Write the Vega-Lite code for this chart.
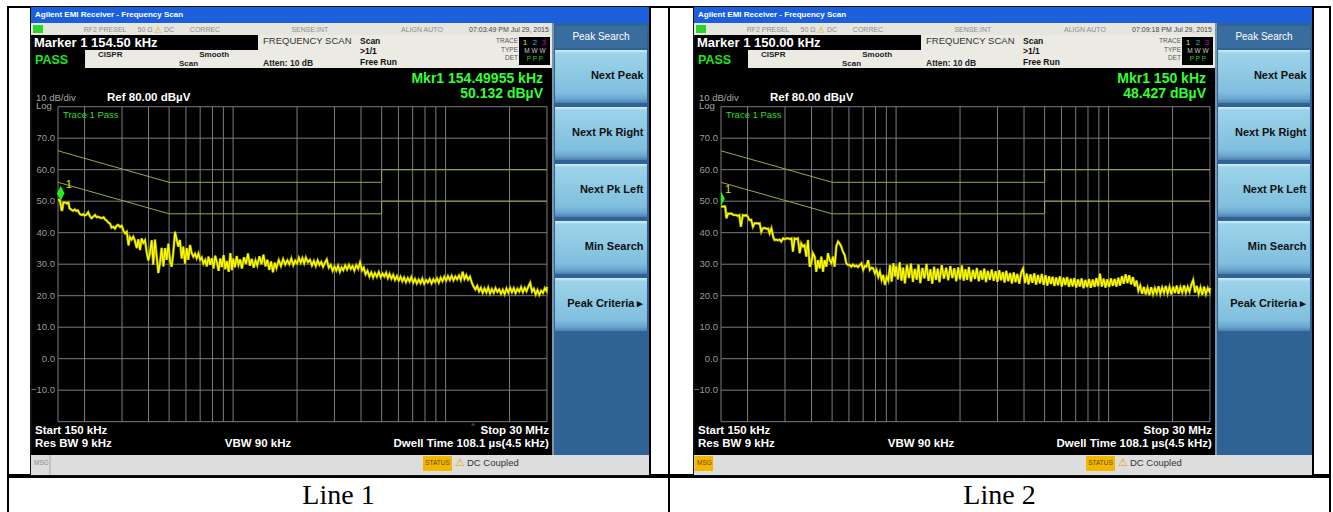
{
"$schema":"https://vega.github.io/schema/vega-lite/v6.json",
"background":"white",
"padding":{"left":7,"top":6,"right":0,"bottom":0},
"config":{"view":{"stroke":null},"font":"Liberation Sans","text":{"font":"Liberation Sans"}},
"datasets":{
"gx":[{"f":150},{"f":200},{"f":300},{"f":400},{"f":500},{"f":600},{"f":700},{"f":800},{"f":900},{"f":1000},{"f":2000},{"f":3000},{"f":4000},{"f":5000},{"f":6000},{"f":7000},{"f":8000},{"f":9000},{"f":10000},{"f":20000},{"f":30000}],
"gy":[{"db":-20},{"db":-10},{"db":0},{"db":10},{"db":20},{"db":30},{"db":40},{"db":50},{"db":60},{"db":70},{"db":80}],
"limits":[{"lim":"QP","i":1,"f":150,"v":66},{"lim":"QP","i":2,"f":500,"v":56},{"lim":"QP","i":3,"f":5000,"v":56},{"lim":"QP","i":4,"f":5000,"v":60},{"lim":"QP","i":5,"f":30000,"v":60},{"lim":"AV","i":1,"f":150,"v":56},{"lim":"AV","i":2,"f":500,"v":46},{"lim":"AV","i":3,"f":5000,"v":46},{"lim":"AV","i":4,"f":5000,"v":50},{"lim":"AV","i":5,"f":30000,"v":50}],
"buttons":[{"label":"Next Peak"},{"label":"Next Pk Right"},{"label":"Next Pk Left"},{"label":"Min Search"},{"label":"Peak Criteria ▸"}],
"trace":[
{"f":150,"a":50.4,"b":48.3},{"f":153,"a":50.4,"b":48.3},{"f":156,"a":47.2,"b":48.4},{"f":157,"a":47.2,"b":48.3},{"f":159,"a":49.6,"b":44.6},{"f":162,"a":49.6,"b":46.1},{"f":165,"a":49.3,"b":46.0},{"f":168,"a":49.6,"b":46.1},{"f":170,"a":47.7,"b":45.8},{"f":172,"a":47.5,"b":45.6},{"f":174,"a":47.2,"b":45.6},{"f":177,"a":47.0,"b":45.6},{"f":180,"a":47.4,"b":45.3},{"f":183,"a":46.9,"b":45.6},{"f":186,"a":47.1,"b":41.9},{"f":190,"a":45.9,"b":45.6},{"f":194,"a":45.6,"b":45.4},{"f":197,"a":45.9,"b":45.6},{"f":200,"a":45.4,"b":45.2},{"f":204,"a":45.7,"b":44.0},{"f":208,"a":46.5,"b":44.1},{"f":212,"a":45.2,"b":41.9},{"f":216,"a":44.6,"b":43.0},{"f":220,"a":45.1,"b":43.0},{"f":224,"a":45.6,"b":42.9},{"f":228,"a":44.9,"b":43.0},{"f":232,"a":45.1,"b":40.3},{"f":236,"a":44.8,"b":41.4},{"f":241,"a":44.6,"b":41.5},{"f":246,"a":44.9,"b":41.2},{"f":250,"a":44.2,"b":41.3},{"f":254,"a":43.9,"b":39.8},{"f":259,"a":43.2,"b":41.4},{"f":264,"a":42.8,"b":38.7},{"f":268,"a":41.6,"b":37.7},{"f":273,"a":41.9,"b":37.8},{"f":278,"a":41.3,"b":37.6},{"f":283,"a":42.2,"b":37.8},{"f":288,"a":42.5,"b":37.2},{"f":294,"a":41.8,"b":38.2},{"f":299,"a":42.2,"b":37.9},{"f":305,"a":40.6,"b":38.2},{"f":310,"a":39.8,"b":38.2},{"f":316,"a":40.3,"b":38.0},{"f":322,"a":36.0,"b":38.2},{"f":327,"a":38.6,"b":34.0},{"f":333,"a":37.8,"b":38.2},{"f":339,"a":38.7,"b":38.0},{"f":345,"a":37.5,"b":38.2},{"f":352,"a":35.1,"b":33.5},{"f":358,"a":37.9,"b":36.6},{"f":365,"a":34.5,"b":35.6},{"f":371,"a":38.2,"b":36.0},{"f":378,"a":36.8,"b":32.4},{"f":385,"a":37.6,"b":37.7},{"f":392,"a":33.9,"b":29.2},{"f":399,"a":31.2,"b":30.3},{"f":406,"a":33.4,"b":33.5},{"f":414,"a":37.6,"b":32.4},{"f":421,"a":29.8,"b":27.6},{"f":429,"a":37.8,"b":31.3},{"f":437,"a":32.4,"b":28.7},{"f":445,"a":27.2,"b":32.4},{"f":453,"a":30.4,"b":27.6},{"f":461,"a":35.2,"b":31.3},{"f":470,"a":29.3,"b":29.2},{"f":478,"a":35.1,"b":33.5},{"f":487,"a":31.4,"b":31.3},{"f":496,"a":36.5,"b":30.3},{"f":505,"a":30.8,"b":32.4},{"f":514,"a":29.2,"b":29.2},{"f":523,"a":33.6,"b":35.6},{"f":533,"a":40.3,"b":37.2},{"f":542,"a":38.0,"b":36.6},{"f":552,"a":35.6,"b":35.6},{"f":562,"a":37.7,"b":34.0},{"f":573,"a":31.8,"b":32.9},{"f":583,"a":35.6,"b":30.3},{"f":594,"a":30.2,"b":29.7},{"f":605,"a":35.1,"b":29.8},{"f":616,"a":31.4,"b":29.2},{"f":627,"a":36.1,"b":29.9},{"f":639,"a":33.5,"b":29.3},{"f":650,"a":32.4,"b":29.6},{"f":662,"a":33.3,"b":29.1},{"f":674,"a":31.9,"b":29.7},{"f":687,"a":33.4,"b":30.3},{"f":700,"a":31.4,"b":28.2},{"f":712,"a":32.1,"b":29.4},{"f":725,"a":30.2,"b":29.2},{"f":739,"a":31.3,"b":31.3},{"f":752,"a":29.3,"b":28.2},{"f":766,"a":32.4,"b":28.9},{"f":780,"a":29.8,"b":28.7},{"f":795,"a":31.9,"b":27.1},{"f":809,"a":28.7,"b":28.2},{"f":824,"a":32.7,"b":26.0},{"f":839,"a":30.6,"b":27.6},{"f":855,"a":27.9,"b":25.0},{"f":870,"a":31.8,"b":26.6},{"f":886,"a":29.1,"b":23.4},{"f":903,"a":32.9,"b":26.0},{"f":919,"a":28.4,"b":24.8},{"f":936,"a":31.0,"b":29.7},{"f":953,"a":27.6,"b":24.5},{"f":971,"a":33.5,"b":30.3},{"f":988,"a":28.1,"b":26.1},
{"f":1000,"a":31.8,"b":29.5},{"f":1020,"a":29.0,"b":25.2},{"f":1040,"a":32.6,"b":30.6},{"f":1060,"a":29.8,"b":24.8},{"f":1080,"a":31.5,"b":28.9},{"f":1100,"a":28.6,"b":23.9},{"f":1125,"a":32.2,"b":29.8},{"f":1150,"a":30.1,"b":25.6},{"f":1175,"a":33.4,"b":30.2},{"f":1200,"a":29.5,"b":24.4},{"f":1225,"a":31.7,"b":28.5},{"f":1250,"a":28.9,"b":25.1},{"f":1275,"a":31.2,"b":29.9},{"f":1300,"a":29.6,"b":24.0},{"f":1330,"a":32.5,"b":28.8},{"f":1360,"a":30.0,"b":25.5},{"f":1390,"a":33.0,"b":30.1},{"f":1420,"a":29.3,"b":24.7},{"f":1450,"a":31.4,"b":28.4},{"f":1480,"a":28.2,"b":23.8},{"f":1510,"a":30.9,"b":29.2},{"f":1540,"a":27.4,"b":25.0},{"f":1570,"a":30.5,"b":28.6},{"f":1600,"a":28.8,"b":24.3},{"f":1640,"a":31.3,"b":29.7},{"f":1680,"a":29.4,"b":25.4},{"f":1720,"a":31.6,"b":28.9},{"f":1760,"a":29.9,"b":24.9},{"f":1800,"a":31.2,"b":29.4},{"f":1840,"a":30.0,"b":25.6},{"f":1880,"a":31.8,"b":28.7},{"f":1920,"a":29.7,"b":24.6},{"f":1960,"a":31.1,"b":29.0},
{"f":2000,"a":30.2,"b":25.2},{"f":2040,"a":32.0,"b":29.6},{"f":2080,"a":30.5,"b":24.8},{"f":2120,"a":31.9,"b":28.4},{"f":2160,"a":30.3,"b":25.0},{"f":2200,"a":32.1,"b":29.1},{"f":2250,"a":30.6,"b":24.5},{"f":2300,"a":31.4,"b":28.2},{"f":2350,"a":29.6,"b":25.3},{"f":2400,"a":31.0,"b":28.8},{"f":2450,"a":29.4,"b":24.6},{"f":2500,"a":31.2,"b":28.0},{"f":2550,"a":29.8,"b":25.1},{"f":2600,"a":30.7,"b":28.6},{"f":2650,"a":29.2,"b":24.3},{"f":2700,"a":30.4,"b":27.9},{"f":2760,"a":31.5,"b":25.0},{"f":2820,"a":28.9,"b":28.3},{"f":2880,"a":29.8,"b":24.7},{"f":2940,"a":27.9,"b":27.8},{"f":3000,"a":29.3,"b":24.4},{"f":3060,"a":28.0,"b":28.1},{"f":3120,"a":29.5,"b":24.9},{"f":3180,"a":27.6,"b":27.5},{"f":3240,"a":29.0,"b":24.2},{"f":3300,"a":28.1,"b":27.9},{"f":3370,"a":29.6,"b":24.6},{"f":3440,"a":28.3,"b":27.2},{"f":3510,"a":29.8,"b":23.9},{"f":3580,"a":28.5,"b":27.4},{"f":3650,"a":29.4,"b":24.3},{"f":3720,"a":28.0,"b":26.9},{"f":3800,"a":29.7,"b":23.8},{"f":3880,"a":28.6,"b":27.3},{"f":3960,"a":30.6,"b":28.6},{"f":4040,"a":28.0,"b":24.0},{"f":4120,"a":28.9,"b":27.0},{"f":4200,"a":26.8,"b":23.6},{"f":4290,"a":27.9,"b":26.8},{"f":4380,"a":26.1,"b":24.1},{"f":4470,"a":27.4,"b":27.1},{"f":4560,"a":25.8,"b":23.5},{"f":4650,"a":27.2,"b":26.6},{"f":4750,"a":26.0,"b":23.9},{"f":4850,"a":27.5,"b":26.9},{"f":4950,"a":25.9,"b":23.4},
{"f":5050,"a":27.0,"b":26.5},{"f":5150,"a":26.1,"b":23.2},{"f":5250,"a":27.3,"b":26.2},{"f":5350,"a":25.6,"b":23.7},{"f":5450,"a":26.9,"b":26.0},{"f":5560,"a":25.4,"b":23.1},{"f":5670,"a":26.6,"b":25.8},{"f":5780,"a":25.0,"b":23.3},{"f":5900,"a":26.2,"b":26.1},{"f":6020,"a":24.8,"b":22.9},{"f":6140,"a":26.0,"b":25.7},{"f":6260,"a":24.6,"b":23.4},{"f":6380,"a":25.8,"b":25.9},{"f":6510,"a":24.3,"b":22.8},{"f":6640,"a":25.6,"b":25.4},{"f":6770,"a":24.5,"b":23.0},{"f":6900,"a":25.9,"b":25.6},{"f":7040,"a":24.1,"b":22.6},{"f":7180,"a":25.3,"b":25.2},{"f":7320,"a":23.9,"b":22.9},{"f":7470,"a":25.1,"b":25.5},{"f":7620,"a":24.0,"b":22.4},{"f":7770,"a":25.4,"b":25.0},{"f":7930,"a":23.8,"b":22.7},{"f":8090,"a":25.0,"b":25.3},{"f":8250,"a":24.2,"b":22.5},{"f":8420,"a":25.3,"b":25.1},{"f":8590,"a":23.9,"b":22.8},{"f":8760,"a":25.2,"b":25.6},{"f":8930,"a":24.3,"b":23.0},{"f":9110,"a":25.5,"b":27.0},{"f":9290,"a":24.1,"b":22.9},{"f":9480,"a":25.7,"b":25.4},{"f":9670,"a":24.6,"b":22.6},{"f":9860,"a":26.0,"b":25.2},
{"f":10060,"a":24.8,"b":22.8},{"f":10260,"a":26.2,"b":25.5},{"f":10470,"a":25.0,"b":23.1},{"f":10680,"a":26.3,"b":25.3},{"f":10890,"a":24.9,"b":22.9},{"f":11110,"a":26.1,"b":25.7},{"f":11330,"a":25.2,"b":23.2},{"f":11560,"a":26.4,"b":26.2},{"f":11790,"a":25.0,"b":23.8},{"f":12030,"a":27.6,"b":26.8},{"f":12270,"a":25.3,"b":24.0},{"f":12510,"a":26.5,"b":26.5},{"f":12760,"a":25.1,"b":23.6},{"f":13020,"a":26.0,"b":25.9},{"f":13280,"a":24.2,"b":23.0},{"f":13540,"a":22.9,"b":24.8},{"f":13810,"a":22.0,"b":21.6},{"f":14090,"a":23.1,"b":23.2},{"f":14370,"a":21.4,"b":20.6},{"f":14660,"a":22.5,"b":22.8},{"f":14950,"a":20.9,"b":20.4},{"f":15250,"a":22.3,"b":22.5},{"f":15560,"a":21.0,"b":20.2},{"f":15870,"a":22.6,"b":22.7},{"f":16190,"a":20.7,"b":20.5},{"f":16510,"a":22.1,"b":22.4},{"f":16840,"a":20.9,"b":20.8},{"f":17180,"a":22.4,"b":23.0},{"f":17520,"a":21.2,"b":20.6},{"f":17870,"a":22.0,"b":22.6},{"f":18230,"a":20.6,"b":20.9},{"f":18590,"a":21.9,"b":23.1},{"f":18960,"a":20.5,"b":20.7},{"f":19340,"a":22.3,"b":22.8},{"f":19730,"a":21.0,"b":20.4},{"f":20120,"a":22.5,"b":22.9},{"f":20520,"a":21.1,"b":20.8},{"f":20930,"a":22.4,"b":23.2},{"f":21350,"a":20.8,"b":20.6},{"f":21780,"a":22.2,"b":22.7},{"f":22220,"a":21.3,"b":21.0},{"f":22660,"a":22.7,"b":23.3},{"f":23110,"a":21.1,"b":20.9},{"f":23570,"a":22.5,"b":22.8},{"f":24040,"a":21.4,"b":21.2},{"f":24520,"a":22.9,"b":23.5},{"f":25010,"a":24.1,"b":25.0},{"f":25510,"a":21.3,"b":21.0},{"f":26020,"a":22.2,"b":23.1},{"f":26540,"a":20.4,"b":20.6},{"f":27070,"a":21.8,"b":22.6},{"f":27610,"a":20.3,"b":20.3},{"f":28160,"a":21.6,"b":22.9},{"f":28720,"a":20.9,"b":20.5},{"f":29300,"a":22.4,"b":22.4},{"f":29880,"a":21.5,"b":21.2},{"f":30000,"a":22.8,"b":22.5}
]
},
"spacing":-2,
"bounds":"full",
"vconcat":[
{"spacing":0,"bounds":"flush","hconcat":[
 {"width":23,"height":468,"view":{"stroke":"black","strokeWidth":2},"data":{"values":[{}]},"mark":{"type":"text","text":""}},
 {"width":619,"height":468,"view":{"fill":"black","stroke":"#111111","strokeWidth":2},"data":{"values":[{}]},"resolve":{"scale":{"y":"independent"}},
  "layer":[
   {"mark":{"type":"rect","color":"#1b5fdc"},"encoding":{"x":{"datum":111.94,"type":"quantitative","scale":{"type":"log","domain":[111.94,91620],"nice":false},"axis":null},"x2":{"datum":91620},"y":{"datum":111.65,"type":"quantitative","scale":{"domain":[-36.92,111.65],"nice":false,"zero":false},"axis":null},"y2":{"datum":106.57}}},
   {"mark":{"type":"text","align":"left","fontSize":8,"fontWeight":"bold","color":"white"},"encoding":{"x":{"datum":116.9,"type":"quantitative","scale":{"type":"log","domain":[111.94,91620],"nice":false},"axis":null},"y":{"datum":109.0,"type":"quantitative","scale":{"domain":[-36.92,111.65],"nice":false,"zero":false},"axis":null},"text":{"value":"Agilent EMI Receiver  - Frequency Scan"}}},
   {"mark":{"type":"rect","color":"#e6e6de"},"encoding":{"x":{"datum":111.94,"type":"quantitative","scale":{"type":"log","domain":[111.94,91620],"nice":false},"axis":null},"x2":{"datum":31680},"y":{"datum":106.57,"type":"quantitative","scale":{"domain":[-36.92,111.65],"nice":false,"zero":false},"axis":null},"y2":{"datum":102.76}}},
   {"mark":{"type":"rect","color":"#ebebe4"},"encoding":{"x":{"datum":1310,"type":"quantitative","scale":{"type":"log","domain":[111.94,91620],"nice":false},"axis":null},"x2":{"datum":31680},"y":{"datum":102.76,"type":"quantitative","scale":{"domain":[-36.92,111.65],"nice":false,"zero":false},"axis":null},"y2":{"datum":98.0}}},
   {"mark":{"type":"rect","color":"#ebebe4"},"encoding":{"x":{"datum":201,"type":"quantitative","scale":{"type":"log","domain":[111.94,91620],"nice":false},"axis":null},"x2":{"datum":31680},"y":{"datum":98.0,"type":"quantitative","scale":{"domain":[-36.92,111.65],"nice":false,"zero":false},"axis":null},"y2":{"datum":92.29}}},
   {"mark":{"type":"rect","color":"black"},"encoding":{"x":{"datum":22155,"type":"quantitative","scale":{"type":"log","domain":[111.94,91620],"nice":false},"axis":null},"x2":{"datum":31005},"y":{"datum":102.13,"type":"quantitative","scale":{"domain":[-36.92,111.65],"nice":false,"zero":false},"axis":null},"y2":{"datum":93.24}}},
   {"mark":{"type":"rect","color":"#2bd42b"},"encoding":{"x":{"datum":114.4,"type":"quantitative","scale":{"type":"log","domain":[111.94,91620],"nice":false},"axis":null},"x2":{"datum":127.5},"y":{"datum":105.94,"type":"quantitative","scale":{"domain":[-36.92,111.65],"nice":false,"zero":false},"axis":null},"y2":{"datum":103.4}}},
   {"mark":{"type":"rect","color":"#2f6396"},"encoding":{"x":{"datum":31680,"type":"quantitative","scale":{"type":"log","domain":[111.94,91620],"nice":false},"axis":null},"x2":{"datum":91620},"y":{"datum":106.57,"type":"quantitative","scale":{"domain":[-36.92,111.65],"nice":false,"zero":false},"axis":null},"y2":{"datum":-30.57}}},
   {"mark":{"type":"rule","color":"#c9c9c0","strokeWidth":1},"encoding":{"x":{"datum":32030,"type":"quantitative","scale":{"type":"log","domain":[111.94,91620],"nice":false},"axis":null},"y":{"datum":106.57,"type":"quantitative","scale":{"domain":[-36.92,111.65],"nice":false,"zero":false},"axis":null},"y2":{"datum":-30.57}}},
   {"mark":{"type":"rect","color":"#3a6d9f"},"encoding":{"x":{"datum":32730,"type":"quantitative","scale":{"type":"log","domain":[111.94,91620],"nice":false},"axis":null},"x2":{"datum":88670},"y":{"datum":105.62,"type":"quantitative","scale":{"domain":[-36.92,111.65],"nice":false,"zero":false},"axis":null},"y2":{"datum":98.64}}},
   {"mark":{"type":"text","fontSize":10,"color":"white"},"encoding":{"x":{"datum":53880,"type":"quantitative","scale":{"type":"log","domain":[111.94,91620],"nice":false},"axis":null},"y":{"datum":102.1,"type":"quantitative","scale":{"domain":[-36.92,111.65],"nice":false,"zero":false},"axis":null},"text":{"value":"Peak Search"}}},
   {"data":{"name":"buttons"},"mark":{"type":"rect","fill":{"gradient":"linear","x1":0,"y1":0,"x2":0,"y2":1,"stops":[{"offset":0,"color":"#d8f0f8"},{"offset":0.06,"color":"#9dd3ea"},{"offset":0.8,"color":"#7fbfdd"},{"offset":0.92,"color":"#6aa6cf"},{"offset":1,"color":"#4e80b0"}]}},
    "encoding":{"x":{"datum":32730,"type":"quantitative","scale":{"type":"log","domain":[111.94,91620],"nice":false},"axis":null},"x2":{"datum":88670},
     "y":{"field":"label","type":"nominal","sort":null,"scale":{"domain":["Next Peak","Next Pk Right","Next Pk Left","Min Search","Peak Criteria ▸","_a","_b"],"paddingInner":0.0702,"paddingOuter":0.6404,"align":0.589},
      "axis":{"orient":"right","offset":-7,"domain":false,"ticks":false,"grid":false,"title":null,"zindex":1,"labelAlign":"right","labelPadding":0,"labelFontSize":11,"labelFontWeight":"bold","labelColor":"#101010","labelLimit":300,"labelExpr":"indexof(datum.value,'_')==0 ? '' : datum.value"}}}},
   {"mark":{"type":"rect","color":"#dddddd"},"encoding":{"x":{"datum":111.94,"type":"quantitative","scale":{"type":"log","domain":[111.94,91620],"nice":false},"axis":null},"x2":{"datum":91620},"y":{"datum":-30.57,"type":"quantitative","scale":{"domain":[-36.92,111.65],"nice":false,"zero":false},"axis":null},"y2":{"datum":-36.92}}},
   {"mark":{"type":"rect","color":"#f2b600"},"encoding":{"x":{"datum":7830,"type":"quantitative","scale":{"type":"log","domain":[111.94,91620],"nice":false},"axis":null},"x2":{"datum":10720},"y":{"datum":-30.89,"type":"quantitative","scale":{"domain":[-36.92,111.65],"nice":false,"zero":false},"axis":null},"y2":{"datum":-35.65}}},
   {"mark":{"type":"rule","color":"#aaaaaa"},"encoding":{"x":{"datum":137.6,"type":"quantitative","scale":{"type":"log","domain":[111.94,91620],"nice":false},"axis":null},"y":{"datum":-30.57,"type":"quantitative","scale":{"domain":[-36.92,111.65],"nice":false,"zero":false},"axis":null},"y2":{"datum":-36.92}}},
   {"mark":{"type":"text","align":"left","fontSize":6.5,"color":"#888888"},"encoding":{"x":{"datum":115.6,"type":"quantitative","scale":{"type":"log","domain":[111.94,91620],"nice":false},"axis":null},"y":{"datum":-33.11,"type":"quantitative","scale":{"domain":[-36.92,111.65],"nice":false,"zero":false},"axis":null},"text":{"value":"MSG"}}},
   {"mark":{"type":"text","fontSize":6.5,"color":"#6a4a00"},"encoding":{"x":{"datum":9162,"type":"quantitative","scale":{"type":"log","domain":[111.94,91620],"nice":false},"axis":null},"y":{"datum":-33.11,"type":"quantitative","scale":{"domain":[-36.92,111.65],"nice":false,"zero":false},"axis":null},"text":{"value":"STATUS"}}},
   {"mark":{"type":"text","fontSize":11,"color":"#e0a800"},"encoding":{"x":{"datum":11690,"type":"quantitative","scale":{"type":"log","domain":[111.94,91620],"nice":false},"axis":null},"y":{"datum":-33.11,"type":"quantitative","scale":{"domain":[-36.92,111.65],"nice":false,"zero":false},"axis":null},"text":{"value":"⚠"}}},
   {"mark":{"type":"text","align":"left","fontSize":9.5,"color":"#333333"},"encoding":{"x":{"datum":12610,"type":"quantitative","scale":{"type":"log","domain":[111.94,91620],"nice":false},"axis":null},"y":{"datum":-33.11,"type":"quantitative","scale":{"domain":[-36.92,111.65],"nice":false,"zero":false},"axis":null},"text":{"value":"DC Coupled"}}},
   {"data":{"name":"gx"},"mark":{"type":"rule","color":"#7c7c7c","strokeWidth":1},"encoding":{"x":{"field":"f","type":"quantitative","scale":{"type":"log","domain":[111.94,91620],"nice":false},"axis":null},"y":{"datum":-20,"type":"quantitative","scale":{"domain":[-36.92,111.65],"nice":false,"zero":false},"axis":null},"y2":{"datum":80}}},
   {"data":{"name":"gy"},"mark":{"type":"rule","color":"#7c7c7c","strokeWidth":1},"encoding":{"y":{"field":"db","type":"quantitative","scale":{"domain":[-36.92,111.65],"nice":false,"zero":false},"axis":null},"x":{"datum":150,"type":"quantitative","scale":{"type":"log","domain":[111.94,91620],"nice":false},"axis":null},"x2":{"datum":30000}}},
   {"data":{"name":"gy"},"transform":[{"filter":"datum.db > -20 && datum.db < 80"}],"mark":{"type":"text","align":"right","dx":-3,"fontSize":9.5,"color":"#9a9a9a"},"encoding":{"x":{"datum":150,"type":"quantitative","scale":{"type":"log","domain":[111.94,91620],"nice":false},"axis":null},"y":{"field":"db","type":"quantitative","scale":{"domain":[-36.92,111.65],"nice":false,"zero":false},"axis":null},"text":{"field":"db","type":"quantitative","format":".1f"}}},
   {"data":{"name":"limits"},"mark":{"type":"line","color":"#a3a34a","strokeWidth":1},"encoding":{"x":{"field":"f","type":"quantitative","scale":{"type":"log","domain":[111.94,91620],"nice":false},"axis":null},"y":{"field":"v","type":"quantitative","scale":{"domain":[-36.92,111.65],"nice":false,"zero":false},"axis":null},"detail":{"field":"lim"},"order":{"field":"i"}}},
   {"data":{"name":"trace"},"mark":{"type":"line","color":"#9a9a00","strokeWidth":2.6},"encoding":{"x":{"field":"f","type":"quantitative","scale":{"type":"log","domain":[111.94,91620],"nice":false},"axis":null},"y":{"field":"a","type":"quantitative","scale":{"domain":[-36.92,111.65],"nice":false,"zero":false},"axis":null}}},
   {"data":{"name":"trace"},"mark":{"type":"line","color":"#ffff00","strokeWidth":1.3},"encoding":{"x":{"field":"f","type":"quantitative","scale":{"type":"log","domain":[111.94,91620],"nice":false},"axis":null},"y":{"field":"a","type":"quantitative","scale":{"domain":[-36.92,111.65],"nice":false,"zero":false},"axis":null}}},
   {"mark":{"type":"point","shape":"M0,-1L0.5,0L0,1L-0.5,0Z","filled":true,"color":"#22ee22","opacity":1,"size":225,"yOffset":-7.5},"encoding":{"x":{"datum":154.5,"type":"quantitative","scale":{"type":"log","domain":[111.94,91620],"nice":false},"axis":null},"y":{"datum":50.13,"type":"quantitative","scale":{"domain":[-36.92,111.65],"nice":false,"zero":false},"axis":null}}},
   {"mark":{"type":"text","dx":8,"dy":-16,"fontSize":11,"color":"#e6e600"},"encoding":{"x":{"datum":154.5,"type":"quantitative","scale":{"type":"log","domain":[111.94,91620],"nice":false},"axis":null},"y":{"datum":50.13,"type":"quantitative","scale":{"domain":[-36.92,111.65],"nice":false,"zero":false},"axis":null},"text":{"value":"1"}}},
   {"mark":{"type":"text","fontSize":7,"color":"#8c8c8c"},"encoding":{"x":{"datum":249.7,"type":"quantitative","scale":{"type":"log","domain":[111.94,91620],"nice":false},"axis":null},"y":{"datum":104.5,"type":"quantitative","scale":{"domain":[-36.92,111.65],"nice":false,"zero":false},"axis":null},"text":{"value":"RF2 PRESEL"}}},
   {"mark":{"type":"text","fontSize":7,"color":"#8c8c8c"},"encoding":{"x":{"datum":385,"type":"quantitative","scale":{"type":"log","domain":[111.94,91620],"nice":false},"axis":null},"y":{"datum":104.5,"type":"quantitative","scale":{"domain":[-36.92,111.65],"nice":false,"zero":false},"axis":null},"text":{"value":"50 Ω"}}},
   {"mark":{"type":"text","fontSize":9,"color":"#d9a800"},"encoding":{"x":{"datum":443.7,"type":"quantitative","scale":{"type":"log","domain":[111.94,91620],"nice":false},"axis":null},"y":{"datum":104.5,"type":"quantitative","scale":{"domain":[-36.92,111.65],"nice":false,"zero":false},"axis":null},"text":{"value":"⚠"}}},
   {"mark":{"type":"text","fontSize":7,"color":"#8c8c8c"},"encoding":{"x":{"datum":499.7,"type":"quantitative","scale":{"type":"log","domain":[111.94,91620],"nice":false},"axis":null},"y":{"datum":104.5,"type":"quantitative","scale":{"domain":[-36.92,111.65],"nice":false,"zero":false},"axis":null},"text":{"value":"DC"}}},
   {"mark":{"type":"text","fontSize":7,"color":"#8c8c8c"},"encoding":{"x":{"datum":737.6,"type":"quantitative","scale":{"type":"log","domain":[111.94,91620],"nice":false},"axis":null},"y":{"datum":104.5,"type":"quantitative","scale":{"domain":[-36.92,111.65],"nice":false,"zero":false},"axis":null},"text":{"value":"CORREC"}}},
   {"mark":{"type":"text","fontSize":7,"color":"#8c8c8c"},"encoding":{"x":{"datum":2298,"type":"quantitative","scale":{"type":"log","domain":[111.94,91620],"nice":false},"axis":null},"y":{"datum":104.5,"type":"quantitative","scale":{"domain":[-36.92,111.65],"nice":false,"zero":false},"axis":null},"text":{"value":"SENSE:INT"}}},
   {"mark":{"type":"text","fontSize":7,"color":"#8c8c8c"},"encoding":{"x":{"datum":7741,"type":"quantitative","scale":{"type":"log","domain":[111.94,91620],"nice":false},"axis":null},"y":{"datum":104.5,"type":"quantitative","scale":{"domain":[-36.92,111.65],"nice":false,"zero":false},"axis":null},"text":{"value":"ALIGN AUTO"}}},
   {"mark":{"type":"text","align":"right","fontSize":7,"color":"#444444"},"encoding":{"x":{"datum":30630,"type":"quantitative","scale":{"type":"log","domain":[111.94,91620],"nice":false},"axis":null},"y":{"datum":104.5,"type":"quantitative","scale":{"domain":[-36.92,111.65],"nice":false,"zero":false},"axis":null},"text":{"value":"07:03:49 PM Jul 29, 2015"}}},
   {"mark":{"type":"text","align":"left","fontSize":13,"fontWeight":"bold","color":"white"},"encoding":{"x":{"datum":115.6,"type":"quantitative","scale":{"type":"log","domain":[111.94,91620],"nice":false},"axis":null},"y":{"datum":100.22,"type":"quantitative","scale":{"domain":[-36.92,111.65],"nice":false,"zero":false},"axis":null},"text":{"value":"Marker 1 154.50 kHz"}}},
   {"mark":{"type":"text","align":"left","fontSize":9.5,"color":"#333333"},"encoding":{"x":{"datum":1383,"type":"quantitative","scale":{"type":"log","domain":[111.94,91620],"nice":false},"axis":null},"y":{"datum":100.86,"type":"quantitative","scale":{"domain":[-36.92,111.65],"nice":false,"zero":false},"axis":null},"text":{"value":"FREQUENCY SCAN"}}},
   {"mark":{"type":"text","align":"left","fontSize":8.5,"fontWeight":"bold","color":"#111111"},"encoding":{"x":{"datum":3956,"type":"quantitative","scale":{"type":"log","domain":[111.94,91620],"nice":false},"axis":null},"y":{"datum":100.86,"type":"quantitative","scale":{"domain":[-36.92,111.65],"nice":false,"zero":false},"axis":null},"text":{"value":"Scan"}}},
   {"mark":{"type":"text","align":"left","fontSize":8.5,"fontWeight":"bold","color":"#111111"},"encoding":{"x":{"datum":3956,"type":"quantitative","scale":{"type":"log","domain":[111.94,91620],"nice":false},"axis":null},"y":{"datum":97.68,"type":"quantitative","scale":{"domain":[-36.92,111.65],"nice":false,"zero":false},"axis":null},"text":{"value":">1/1"}}},
   {"mark":{"type":"text","align":"left","fontSize":8.5,"fontWeight":"bold","color":"#111111"},"encoding":{"x":{"datum":3956,"type":"quantitative","scale":{"type":"log","domain":[111.94,91620],"nice":false},"axis":null},"y":{"datum":94.19,"type":"quantitative","scale":{"domain":[-36.92,111.65],"nice":false,"zero":false},"axis":null},"text":{"value":"Free Run"}}},
   {"mark":{"type":"text","align":"right","fontSize":6.5,"color":"#555555"},"encoding":{"x":{"datum":21920,"type":"quantitative","scale":{"type":"log","domain":[111.94,91620],"nice":false},"axis":null},"y":{"datum":100.86,"type":"quantitative","scale":{"domain":[-36.92,111.65],"nice":false,"zero":false},"axis":null},"text":{"value":"TRACE"}}},
   {"mark":{"type":"text","align":"right","fontSize":6.5,"color":"#555555"},"encoding":{"x":{"datum":21920,"type":"quantitative","scale":{"type":"log","domain":[111.94,91620],"nice":false},"axis":null},"y":{"datum":98.0,"type":"quantitative","scale":{"domain":[-36.92,111.65],"nice":false,"zero":false},"axis":null},"text":{"value":"TYPE"}}},
   {"mark":{"type":"text","align":"right","fontSize":6.5,"color":"#555555"},"encoding":{"x":{"datum":21920,"type":"quantitative","scale":{"type":"log","domain":[111.94,91620],"nice":false},"axis":null},"y":{"datum":95.46,"type":"quantitative","scale":{"domain":[-36.92,111.65],"nice":false,"zero":false},"axis":null},"text":{"value":"DET"}}},
   {"mark":{"type":"text","fontSize":8,"color":"#e8e800"},"encoding":{"x":{"datum":23640,"type":"quantitative","scale":{"type":"log","domain":[111.94,91620],"nice":false},"axis":null},"y":{"datum":100.22,"type":"quantitative","scale":{"domain":[-36.92,111.65],"nice":false,"zero":false},"axis":null},"text":{"value":"1"}}},
   {"mark":{"type":"text","fontSize":8,"color":"#00c8c8"},"encoding":{"x":{"datum":26350,"type":"quantitative","scale":{"type":"log","domain":[111.94,91620],"nice":false},"axis":null},"y":{"datum":100.22,"type":"quantitative","scale":{"domain":[-36.92,111.65],"nice":false,"zero":false},"axis":null},"text":{"value":"2"}}},
   {"mark":{"type":"text","fontSize":8,"color":"#d000d0"},"encoding":{"x":{"datum":29060,"type":"quantitative","scale":{"type":"log","domain":[111.94,91620],"nice":false},"axis":null},"y":{"datum":100.22,"type":"quantitative","scale":{"domain":[-36.92,111.65],"nice":false,"zero":false},"axis":null},"text":{"value":"3"}}},
   {"mark":{"type":"text","fontSize":6.5,"color":"#c8c8c8"},"encoding":{"x":{"datum":26350,"type":"quantitative","scale":{"type":"log","domain":[111.94,91620],"nice":false},"axis":null},"y":{"datum":97.68,"type":"quantitative","scale":{"domain":[-36.92,111.65],"nice":false,"zero":false},"axis":null},"text":{"value":"M W W"}}},
   {"mark":{"type":"text","fontSize":6.5,"color":"#22cc22"},"encoding":{"x":{"datum":26350,"type":"quantitative","scale":{"type":"log","domain":[111.94,91620],"nice":false},"axis":null},"y":{"datum":95.14,"type":"quantitative","scale":{"domain":[-36.92,111.65],"nice":false,"zero":false},"axis":null},"text":{"value":"P  P  P"}}},
   {"mark":{"type":"text","align":"left","fontSize":12.5,"fontWeight":"bold","color":"#1ee61e"},"encoding":{"x":{"datum":116.9,"type":"quantitative","scale":{"type":"log","domain":[111.94,91620],"nice":false},"axis":null},"y":{"datum":94.98,"type":"quantitative","scale":{"domain":[-36.92,111.65],"nice":false,"zero":false},"axis":null},"text":{"value":"PASS"}}},
   {"mark":{"type":"text","align":"left","fontSize":8,"fontWeight":"bold","color":"#222222"},"encoding":{"x":{"datum":231.4,"type":"quantitative","scale":{"type":"log","domain":[111.94,91620],"nice":false},"axis":null},"y":{"datum":96.41,"type":"quantitative","scale":{"domain":[-36.92,111.65],"nice":false,"zero":false},"axis":null},"text":{"value":"CISPR"}}},
   {"mark":{"type":"text","align":"right","fontSize":8,"fontWeight":"bold","color":"#222222"},"encoding":{"x":{"datum":957,"type":"quantitative","scale":{"type":"log","domain":[111.94,91620],"nice":false},"axis":null},"y":{"datum":96.41,"type":"quantitative","scale":{"domain":[-36.92,111.65],"nice":false,"zero":false},"axis":null},"text":{"value":"Smooth"}}},
   {"mark":{"type":"text","align":"left","fontSize":8,"fontWeight":"bold","color":"#222222"},"encoding":{"x":{"datum":556.5,"type":"quantitative","scale":{"type":"log","domain":[111.94,91620],"nice":false},"axis":null},"y":{"datum":93.56,"type":"quantitative","scale":{"domain":[-36.92,111.65],"nice":false,"zero":false},"axis":null},"text":{"value":"Scan"}}},
   {"mark":{"type":"text","align":"left","fontSize":8.5,"fontWeight":"bold","color":"#222222"},"encoding":{"x":{"datum":1383,"type":"quantitative","scale":{"type":"log","domain":[111.94,91620],"nice":false},"axis":null},"y":{"datum":94.03,"type":"quantitative","scale":{"domain":[-36.92,111.65],"nice":false,"zero":false},"axis":null},"text":{"value":"Atten: 10 dB"}}},
   {"mark":{"type":"text","align":"right","fontSize":14,"fontWeight":"bold","color":"#33ff33"},"encoding":{"x":{"datum":28740,"type":"quantitative","scale":{"type":"log","domain":[111.94,91620],"nice":false},"axis":null},"y":{"datum":88.79,"type":"quantitative","scale":{"domain":[-36.92,111.65],"nice":false,"zero":false},"axis":null},"text":{"value":"Mkr1  154.49955 kHz"}}},
   {"mark":{"type":"text","align":"right","fontSize":14,"fontWeight":"bold","color":"#33ff33"},"encoding":{"x":{"datum":28740,"type":"quantitative","scale":{"type":"log","domain":[111.94,91620],"nice":false},"axis":null},"y":{"datum":84.03,"type":"quantitative","scale":{"domain":[-36.92,111.65],"nice":false,"zero":false},"axis":null},"text":{"value":"50.132 dBµV"}}},
   {"mark":{"type":"text","align":"left","fontSize":9.5,"color":"#a8a8a8"},"encoding":{"x":{"datum":118.2,"type":"quantitative","scale":{"type":"log","domain":[111.94,91620],"nice":false},"axis":null},"y":{"datum":82.76,"type":"quantitative","scale":{"domain":[-36.92,111.65],"nice":false,"zero":false},"axis":null},"text":{"value":"10 dB/div"}}},
   {"mark":{"type":"text","align":"left","fontSize":11.5,"fontWeight":"bold","color":"white"},"encoding":{"x":{"datum":255.1,"type":"quantitative","scale":{"type":"log","domain":[111.94,91620],"nice":false},"axis":null},"y":{"datum":82.76,"type":"quantitative","scale":{"domain":[-36.92,111.65],"nice":false,"zero":false},"axis":null},"text":{"value":"Ref 80.00 dBµV"}}},
   {"mark":{"type":"text","align":"left","fontSize":9.5,"color":"#a8a8a8"},"encoding":{"x":{"datum":118.2,"type":"quantitative","scale":{"type":"log","domain":[111.94,91620],"nice":false},"axis":null},"y":{"datum":80.1,"type":"quantitative","scale":{"domain":[-36.92,111.65],"nice":false,"zero":false},"axis":null},"text":{"value":"Log"}}},
   {"mark":{"type":"text","align":"left","fontSize":9.5,"color":"#2edc2e"},"encoding":{"x":{"datum":158.3,"type":"quantitative","scale":{"type":"log","domain":[111.94,91620],"nice":false},"axis":null},"y":{"datum":77.37,"type":"quantitative","scale":{"domain":[-36.92,111.65],"nice":false,"zero":false},"axis":null},"text":{"value":"Trace 1 Pass"}}},
   {"mark":{"type":"text","align":"left","fontSize":11.5,"fontWeight":"bold","color":"white"},"encoding":{"x":{"datum":116.9,"type":"quantitative","scale":{"type":"log","domain":[111.94,91620],"nice":false},"axis":null},"y":{"datum":-22.95,"type":"quantitative","scale":{"domain":[-36.92,111.65],"nice":false,"zero":false},"axis":null},"text":{"value":"Start 150 kHz"}}},
   {"mark":{"type":"text","align":"left","fontSize":11.5,"fontWeight":"bold","color":"white"},"encoding":{"x":{"datum":116.9,"type":"quantitative","scale":{"type":"log","domain":[111.94,91620],"nice":false},"axis":null},"y":{"datum":-27.08,"type":"quantitative","scale":{"domain":[-36.92,111.65],"nice":false,"zero":false},"axis":null},"text":{"value":"Res BW 9 kHz"}}},
   {"mark":{"type":"text","fontSize":11.5,"fontWeight":"bold","color":"white"},"encoding":{"x":{"datum":1310,"type":"quantitative","scale":{"type":"log","domain":[111.94,91620],"nice":false},"axis":null},"y":{"datum":-27.08,"type":"quantitative","scale":{"domain":[-36.92,111.65],"nice":false,"zero":false},"axis":null},"text":{"value":"VBW 90 kHz"}}},
   {"mark":{"type":"text","align":"right","fontSize":11.5,"fontWeight":"bold","color":"white"},"encoding":{"x":{"datum":30630,"type":"quantitative","scale":{"type":"log","domain":[111.94,91620],"nice":false},"axis":null},"y":{"datum":-22.95,"type":"quantitative","scale":{"domain":[-36.92,111.65],"nice":false,"zero":false},"axis":null},"text":{"value":"Stop 30 MHz"}}},
   {"mark":{"type":"text","align":"right","fontSize":11.5,"fontWeight":"bold","color":"white"},"encoding":{"x":{"datum":30630,"type":"quantitative","scale":{"type":"log","domain":[111.94,91620],"nice":false},"axis":null},"y":{"datum":-27.08,"type":"quantitative","scale":{"domain":[-36.92,111.65],"nice":false,"zero":false},"axis":null},"text":{"value":"Dwell Time 108.1 µs(4.5 kHz)"}}},
   {"mark":{"type":"text","fontSize":8,"color":"#2ecc2e"},"encoding":{"x":{"datum":13460,"type":"quantitative","scale":{"type":"log","domain":[111.94,91620],"nice":false},"axis":null},"y":{"datum":-21.3,"type":"quantitative","scale":{"domain":[-36.92,111.65],"nice":false,"zero":false},"axis":null},"text":{"value":"^"}}}
  ]},
 {"width":19,"height":468,"view":{"stroke":"black","strokeWidth":2},"data":{"values":[{}]},"mark":{"type":"text","text":""}},
 {"width":25,"height":468,"view":{"stroke":"black","strokeWidth":2},"data":{"values":[{}]},"mark":{"type":"text","text":""}},
 {"width":619,"height":468,"view":{"fill":"black","stroke":"#111111","strokeWidth":2},"data":{"values":[{}]},"resolve":{"scale":{"y":"independent"}},
  "layer":[
   {"mark":{"type":"rect","color":"#1b5fdc"},"encoding":{"x":{"datum":111.94,"type":"quantitative","scale":{"type":"log","domain":[111.94,91620],"nice":false},"axis":null},"x2":{"datum":91620},"y":{"datum":111.65,"type":"quantitative","scale":{"domain":[-36.92,111.65],"nice":false,"zero":false},"axis":null},"y2":{"datum":106.57}}},
   {"mark":{"type":"text","align":"left","fontSize":8,"fontWeight":"bold","color":"white"},"encoding":{"x":{"datum":116.9,"type":"quantitative","scale":{"type":"log","domain":[111.94,91620],"nice":false},"axis":null},"y":{"datum":109.0,"type":"quantitative","scale":{"domain":[-36.92,111.65],"nice":false,"zero":false},"axis":null},"text":{"value":"Agilent EMI Receiver  - Frequency Scan"}}},
   {"mark":{"type":"rect","color":"#e6e6de"},"encoding":{"x":{"datum":111.94,"type":"quantitative","scale":{"type":"log","domain":[111.94,91620],"nice":false},"axis":null},"x2":{"datum":31680},"y":{"datum":106.57,"type":"quantitative","scale":{"domain":[-36.92,111.65],"nice":false,"zero":false},"axis":null},"y2":{"datum":102.76}}},
   {"mark":{"type":"rect","color":"#ebebe4"},"encoding":{"x":{"datum":1310,"type":"quantitative","scale":{"type":"log","domain":[111.94,91620],"nice":false},"axis":null},"x2":{"datum":31680},"y":{"datum":102.76,"type":"quantitative","scale":{"domain":[-36.92,111.65],"nice":false,"zero":false},"axis":null},"y2":{"datum":98.0}}},
   {"mark":{"type":"rect","color":"#ebebe4"},"encoding":{"x":{"datum":201,"type":"quantitative","scale":{"type":"log","domain":[111.94,91620],"nice":false},"axis":null},"x2":{"datum":31680},"y":{"datum":98.0,"type":"quantitative","scale":{"domain":[-36.92,111.65],"nice":false,"zero":false},"axis":null},"y2":{"datum":92.29}}},
   {"mark":{"type":"rect","color":"black"},"encoding":{"x":{"datum":22155,"type":"quantitative","scale":{"type":"log","domain":[111.94,91620],"nice":false},"axis":null},"x2":{"datum":31005},"y":{"datum":102.13,"type":"quantitative","scale":{"domain":[-36.92,111.65],"nice":false,"zero":false},"axis":null},"y2":{"datum":93.24}}},
   {"mark":{"type":"rect","color":"#2bd42b"},"encoding":{"x":{"datum":114.4,"type":"quantitative","scale":{"type":"log","domain":[111.94,91620],"nice":false},"axis":null},"x2":{"datum":127.5},"y":{"datum":105.94,"type":"quantitative","scale":{"domain":[-36.92,111.65],"nice":false,"zero":false},"axis":null},"y2":{"datum":103.4}}},
   {"mark":{"type":"rect","color":"#2f6396"},"encoding":{"x":{"datum":31680,"type":"quantitative","scale":{"type":"log","domain":[111.94,91620],"nice":false},"axis":null},"x2":{"datum":91620},"y":{"datum":106.57,"type":"quantitative","scale":{"domain":[-36.92,111.65],"nice":false,"zero":false},"axis":null},"y2":{"datum":-30.57}}},
   {"mark":{"type":"rule","color":"#c9c9c0","strokeWidth":1},"encoding":{"x":{"datum":32030,"type":"quantitative","scale":{"type":"log","domain":[111.94,91620],"nice":false},"axis":null},"y":{"datum":106.57,"type":"quantitative","scale":{"domain":[-36.92,111.65],"nice":false,"zero":false},"axis":null},"y2":{"datum":-30.57}}},
   {"mark":{"type":"rect","color":"#3a6d9f"},"encoding":{"x":{"datum":32730,"type":"quantitative","scale":{"type":"log","domain":[111.94,91620],"nice":false},"axis":null},"x2":{"datum":88670},"y":{"datum":105.62,"type":"quantitative","scale":{"domain":[-36.92,111.65],"nice":false,"zero":false},"axis":null},"y2":{"datum":98.64}}},
   {"mark":{"type":"text","fontSize":10,"color":"white"},"encoding":{"x":{"datum":53880,"type":"quantitative","scale":{"type":"log","domain":[111.94,91620],"nice":false},"axis":null},"y":{"datum":102.1,"type":"quantitative","scale":{"domain":[-36.92,111.65],"nice":false,"zero":false},"axis":null},"text":{"value":"Peak Search"}}},
   {"data":{"name":"buttons"},"mark":{"type":"rect","fill":{"gradient":"linear","x1":0,"y1":0,"x2":0,"y2":1,"stops":[{"offset":0,"color":"#d8f0f8"},{"offset":0.06,"color":"#9dd3ea"},{"offset":0.8,"color":"#7fbfdd"},{"offset":0.92,"color":"#6aa6cf"},{"offset":1,"color":"#4e80b0"}]}},
    "encoding":{"x":{"datum":32730,"type":"quantitative","scale":{"type":"log","domain":[111.94,91620],"nice":false},"axis":null},"x2":{"datum":88670},
     "y":{"field":"label","type":"nominal","sort":null,"scale":{"domain":["Next Peak","Next Pk Right","Next Pk Left","Min Search","Peak Criteria ▸","_a","_b"],"paddingInner":0.0702,"paddingOuter":0.6404,"align":0.589},
      "axis":{"orient":"right","offset":-7,"domain":false,"ticks":false,"grid":false,"title":null,"zindex":1,"labelAlign":"right","labelPadding":0,"labelFontSize":11,"labelFontWeight":"bold","labelColor":"#101010","labelLimit":300,"labelExpr":"indexof(datum.value,'_')==0 ? '' : datum.value"}}}},
   {"mark":{"type":"rect","color":"#dddddd"},"encoding":{"x":{"datum":111.94,"type":"quantitative","scale":{"type":"log","domain":[111.94,91620],"nice":false},"axis":null},"x2":{"datum":91620},"y":{"datum":-30.57,"type":"quantitative","scale":{"domain":[-36.92,111.65],"nice":false,"zero":false},"axis":null},"y2":{"datum":-36.92}}},
   {"mark":{"type":"rect","color":"#f2b600"},"encoding":{"x":{"datum":7830,"type":"quantitative","scale":{"type":"log","domain":[111.94,91620],"nice":false},"axis":null},"x2":{"datum":10720},"y":{"datum":-30.89,"type":"quantitative","scale":{"domain":[-36.92,111.65],"nice":false,"zero":false},"axis":null},"y2":{"datum":-35.65}}},
   {"mark":{"type":"rect","color":"#f2b600"},"encoding":{"x":{"datum":112.5,"type":"quantitative","scale":{"type":"log","domain":[111.94,91620],"nice":false},"axis":null},"x2":{"datum":137.6},"y":{"datum":-30.89,"type":"quantitative","scale":{"domain":[-36.92,111.65],"nice":false,"zero":false},"axis":null},"y2":{"datum":-35.65}}},
   {"mark":{"type":"text","align":"left","fontSize":6.5,"color":"#6a4a00"},"encoding":{"x":{"datum":115.6,"type":"quantitative","scale":{"type":"log","domain":[111.94,91620],"nice":false},"axis":null},"y":{"datum":-33.11,"type":"quantitative","scale":{"domain":[-36.92,111.65],"nice":false,"zero":false},"axis":null},"text":{"value":"MSG"}}},
   {"mark":{"type":"text","fontSize":6.5,"color":"#6a4a00"},"encoding":{"x":{"datum":9162,"type":"quantitative","scale":{"type":"log","domain":[111.94,91620],"nice":false},"axis":null},"y":{"datum":-33.11,"type":"quantitative","scale":{"domain":[-36.92,111.65],"nice":false,"zero":false},"axis":null},"text":{"value":"STATUS"}}},
   {"mark":{"type":"text","fontSize":11,"color":"#e0a800"},"encoding":{"x":{"datum":11690,"type":"quantitative","scale":{"type":"log","domain":[111.94,91620],"nice":false},"axis":null},"y":{"datum":-33.11,"type":"quantitative","scale":{"domain":[-36.92,111.65],"nice":false,"zero":false},"axis":null},"text":{"value":"⚠"}}},
   {"mark":{"type":"text","align":"left","fontSize":9.5,"color":"#333333"},"encoding":{"x":{"datum":12610,"type":"quantitative","scale":{"type":"log","domain":[111.94,91620],"nice":false},"axis":null},"y":{"datum":-33.11,"type":"quantitative","scale":{"domain":[-36.92,111.65],"nice":false,"zero":false},"axis":null},"text":{"value":"DC Coupled"}}},
   {"data":{"name":"gx"},"mark":{"type":"rule","color":"#7c7c7c","strokeWidth":1},"encoding":{"x":{"field":"f","type":"quantitative","scale":{"type":"log","domain":[111.94,91620],"nice":false},"axis":null},"y":{"datum":-20,"type":"quantitative","scale":{"domain":[-36.92,111.65],"nice":false,"zero":false},"axis":null},"y2":{"datum":80}}},
   {"data":{"name":"gy"},"mark":{"type":"rule","color":"#7c7c7c","strokeWidth":1},"encoding":{"y":{"field":"db","type":"quantitative","scale":{"domain":[-36.92,111.65],"nice":false,"zero":false},"axis":null},"x":{"datum":150,"type":"quantitative","scale":{"type":"log","domain":[111.94,91620],"nice":false},"axis":null},"x2":{"datum":30000}}},
   {"data":{"name":"gy"},"transform":[{"filter":"datum.db > -20 && datum.db < 80"}],"mark":{"type":"text","align":"right","dx":-3,"fontSize":9.5,"color":"#9a9a9a"},"encoding":{"x":{"datum":150,"type":"quantitative","scale":{"type":"log","domain":[111.94,91620],"nice":false},"axis":null},"y":{"field":"db","type":"quantitative","scale":{"domain":[-36.92,111.65],"nice":false,"zero":false},"axis":null},"text":{"field":"db","type":"quantitative","format":".1f"}}},
   {"data":{"name":"limits"},"mark":{"type":"line","color":"#a3a34a","strokeWidth":1},"encoding":{"x":{"field":"f","type":"quantitative","scale":{"type":"log","domain":[111.94,91620],"nice":false},"axis":null},"y":{"field":"v","type":"quantitative","scale":{"domain":[-36.92,111.65],"nice":false,"zero":false},"axis":null},"detail":{"field":"lim"},"order":{"field":"i"}}},
   {"data":{"name":"trace"},"mark":{"type":"line","color":"#9a9a00","strokeWidth":2.6},"encoding":{"x":{"field":"f","type":"quantitative","scale":{"type":"log","domain":[111.94,91620],"nice":false},"axis":null},"y":{"field":"b","type":"quantitative","scale":{"domain":[-36.92,111.65],"nice":false,"zero":false},"axis":null}}},
   {"data":{"name":"trace"},"mark":{"type":"line","color":"#ffff00","strokeWidth":1.3},"encoding":{"x":{"field":"f","type":"quantitative","scale":{"type":"log","domain":[111.94,91620],"nice":false},"axis":null},"y":{"field":"b","type":"quantitative","scale":{"domain":[-36.92,111.65],"nice":false,"zero":false},"axis":null}}},
   {"mark":{"type":"point","shape":"M0,-1L0.5,0L0,1Z","filled":true,"color":"#22ee22","opacity":1,"size":225,"yOffset":-7.5},"encoding":{"x":{"datum":150,"type":"quantitative","scale":{"type":"log","domain":[111.94,91620],"nice":false},"axis":null},"y":{"datum":48.43,"type":"quantitative","scale":{"domain":[-36.92,111.65],"nice":false,"zero":false},"axis":null}}},
   {"mark":{"type":"text","dx":7,"dy":-16,"fontSize":11,"color":"#e6e600"},"encoding":{"x":{"datum":150,"type":"quantitative","scale":{"type":"log","domain":[111.94,91620],"nice":false},"axis":null},"y":{"datum":48.43,"type":"quantitative","scale":{"domain":[-36.92,111.65],"nice":false,"zero":false},"axis":null},"text":{"value":"1"}}},
   {"mark":{"type":"text","fontSize":7,"color":"#8c8c8c"},"encoding":{"x":{"datum":249.7,"type":"quantitative","scale":{"type":"log","domain":[111.94,91620],"nice":false},"axis":null},"y":{"datum":104.5,"type":"quantitative","scale":{"domain":[-36.92,111.65],"nice":false,"zero":false},"axis":null},"text":{"value":"RF2 PRESEL"}}},
   {"mark":{"type":"text","fontSize":7,"color":"#8c8c8c"},"encoding":{"x":{"datum":385,"type":"quantitative","scale":{"type":"log","domain":[111.94,91620],"nice":false},"axis":null},"y":{"datum":104.5,"type":"quantitative","scale":{"domain":[-36.92,111.65],"nice":false,"zero":false},"axis":null},"text":{"value":"50 Ω"}}},
   {"mark":{"type":"text","fontSize":9,"color":"#d9a800"},"encoding":{"x":{"datum":443.7,"type":"quantitative","scale":{"type":"log","domain":[111.94,91620],"nice":false},"axis":null},"y":{"datum":104.5,"type":"quantitative","scale":{"domain":[-36.92,111.65],"nice":false,"zero":false},"axis":null},"text":{"value":"⚠"}}},
   {"mark":{"type":"text","fontSize":7,"color":"#8c8c8c"},"encoding":{"x":{"datum":499.7,"type":"quantitative","scale":{"type":"log","domain":[111.94,91620],"nice":false},"axis":null},"y":{"datum":104.5,"type":"quantitative","scale":{"domain":[-36.92,111.65],"nice":false,"zero":false},"axis":null},"text":{"value":"DC"}}},
   {"mark":{"type":"text","fontSize":7,"color":"#8c8c8c"},"encoding":{"x":{"datum":737.6,"type":"quantitative","scale":{"type":"log","domain":[111.94,91620],"nice":false},"axis":null},"y":{"datum":104.5,"type":"quantitative","scale":{"domain":[-36.92,111.65],"nice":false,"zero":false},"axis":null},"text":{"value":"CORREC"}}},
   {"mark":{"type":"text","fontSize":7,"color":"#8c8c8c"},"encoding":{"x":{"datum":2298,"type":"quantitative","scale":{"type":"log","domain":[111.94,91620],"nice":false},"axis":null},"y":{"datum":104.5,"type":"quantitative","scale":{"domain":[-36.92,111.65],"nice":false,"zero":false},"axis":null},"text":{"value":"SENSE:INT"}}},
   {"mark":{"type":"text","fontSize":7,"color":"#8c8c8c"},"encoding":{"x":{"datum":7741,"type":"quantitative","scale":{"type":"log","domain":[111.94,91620],"nice":false},"axis":null},"y":{"datum":104.5,"type":"quantitative","scale":{"domain":[-36.92,111.65],"nice":false,"zero":false},"axis":null},"text":{"value":"ALIGN AUTO"}}},
   {"mark":{"type":"text","align":"right","fontSize":7,"color":"#444444"},"encoding":{"x":{"datum":30630,"type":"quantitative","scale":{"type":"log","domain":[111.94,91620],"nice":false},"axis":null},"y":{"datum":104.5,"type":"quantitative","scale":{"domain":[-36.92,111.65],"nice":false,"zero":false},"axis":null},"text":{"value":"07:09:18 PM Jul 29, 2015"}}},
   {"mark":{"type":"text","align":"left","fontSize":13,"fontWeight":"bold","color":"white"},"encoding":{"x":{"datum":115.6,"type":"quantitative","scale":{"type":"log","domain":[111.94,91620],"nice":false},"axis":null},"y":{"datum":100.22,"type":"quantitative","scale":{"domain":[-36.92,111.65],"nice":false,"zero":false},"axis":null},"text":{"value":"Marker 1 150.00 kHz"}}},
   {"mark":{"type":"text","align":"left","fontSize":9.5,"color":"#333333"},"encoding":{"x":{"datum":1383,"type":"quantitative","scale":{"type":"log","domain":[111.94,91620],"nice":false},"axis":null},"y":{"datum":100.86,"type":"quantitative","scale":{"domain":[-36.92,111.65],"nice":false,"zero":false},"axis":null},"text":{"value":"FREQUENCY SCAN"}}},
   {"mark":{"type":"text","align":"left","fontSize":8.5,"fontWeight":"bold","color":"#111111"},"encoding":{"x":{"datum":3956,"type":"quantitative","scale":{"type":"log","domain":[111.94,91620],"nice":false},"axis":null},"y":{"datum":100.86,"type":"quantitative","scale":{"domain":[-36.92,111.65],"nice":false,"zero":false},"axis":null},"text":{"value":"Scan"}}},
   {"mark":{"type":"text","align":"left","fontSize":8.5,"fontWeight":"bold","color":"#111111"},"encoding":{"x":{"datum":3956,"type":"quantitative","scale":{"type":"log","domain":[111.94,91620],"nice":false},"axis":null},"y":{"datum":97.68,"type":"quantitative","scale":{"domain":[-36.92,111.65],"nice":false,"zero":false},"axis":null},"text":{"value":">1/1"}}},
   {"mark":{"type":"text","align":"left","fontSize":8.5,"fontWeight":"bold","color":"#111111"},"encoding":{"x":{"datum":3956,"type":"quantitative","scale":{"type":"log","domain":[111.94,91620],"nice":false},"axis":null},"y":{"datum":94.19,"type":"quantitative","scale":{"domain":[-36.92,111.65],"nice":false,"zero":false},"axis":null},"text":{"value":"Free Run"}}},
   {"mark":{"type":"text","align":"right","fontSize":6.5,"color":"#555555"},"encoding":{"x":{"datum":21920,"type":"quantitative","scale":{"type":"log","domain":[111.94,91620],"nice":false},"axis":null},"y":{"datum":100.86,"type":"quantitative","scale":{"domain":[-36.92,111.65],"nice":false,"zero":false},"axis":null},"text":{"value":"TRACE"}}},
   {"mark":{"type":"text","align":"right","fontSize":6.5,"color":"#555555"},"encoding":{"x":{"datum":21920,"type":"quantitative","scale":{"type":"log","domain":[111.94,91620],"nice":false},"axis":null},"y":{"datum":98.0,"type":"quantitative","scale":{"domain":[-36.92,111.65],"nice":false,"zero":false},"axis":null},"text":{"value":"TYPE"}}},
   {"mark":{"type":"text","align":"right","fontSize":6.5,"color":"#555555"},"encoding":{"x":{"datum":21920,"type":"quantitative","scale":{"type":"log","domain":[111.94,91620],"nice":false},"axis":null},"y":{"datum":95.46,"type":"quantitative","scale":{"domain":[-36.92,111.65],"nice":false,"zero":false},"axis":null},"text":{"value":"DET"}}},
   {"mark":{"type":"text","fontSize":8,"color":"#e8e800"},"encoding":{"x":{"datum":23640,"type":"quantitative","scale":{"type":"log","domain":[111.94,91620],"nice":false},"axis":null},"y":{"datum":100.22,"type":"quantitative","scale":{"domain":[-36.92,111.65],"nice":false,"zero":false},"axis":null},"text":{"value":"1"}}},
   {"mark":{"type":"text","fontSize":8,"color":"#00c8c8"},"encoding":{"x":{"datum":26350,"type":"quantitative","scale":{"type":"log","domain":[111.94,91620],"nice":false},"axis":null},"y":{"datum":100.22,"type":"quantitative","scale":{"domain":[-36.92,111.65],"nice":false,"zero":false},"axis":null},"text":{"value":"2"}}},
   {"mark":{"type":"text","fontSize":8,"color":"#d000d0"},"encoding":{"x":{"datum":29060,"type":"quantitative","scale":{"type":"log","domain":[111.94,91620],"nice":false},"axis":null},"y":{"datum":100.22,"type":"quantitative","scale":{"domain":[-36.92,111.65],"nice":false,"zero":false},"axis":null},"text":{"value":"3"}}},
   {"mark":{"type":"text","fontSize":6.5,"color":"#c8c8c8"},"encoding":{"x":{"datum":26350,"type":"quantitative","scale":{"type":"log","domain":[111.94,91620],"nice":false},"axis":null},"y":{"datum":97.68,"type":"quantitative","scale":{"domain":[-36.92,111.65],"nice":false,"zero":false},"axis":null},"text":{"value":"M W W"}}},
   {"mark":{"type":"text","fontSize":6.5,"color":"#22cc22"},"encoding":{"x":{"datum":26350,"type":"quantitative","scale":{"type":"log","domain":[111.94,91620],"nice":false},"axis":null},"y":{"datum":95.14,"type":"quantitative","scale":{"domain":[-36.92,111.65],"nice":false,"zero":false},"axis":null},"text":{"value":"P  P  P"}}},
   {"mark":{"type":"text","align":"left","fontSize":12.5,"fontWeight":"bold","color":"#1ee61e"},"encoding":{"x":{"datum":116.9,"type":"quantitative","scale":{"type":"log","domain":[111.94,91620],"nice":false},"axis":null},"y":{"datum":94.98,"type":"quantitative","scale":{"domain":[-36.92,111.65],"nice":false,"zero":false},"axis":null},"text":{"value":"PASS"}}},
   {"mark":{"type":"text","align":"left","fontSize":8,"fontWeight":"bold","color":"#222222"},"encoding":{"x":{"datum":231.4,"type":"quantitative","scale":{"type":"log","domain":[111.94,91620],"nice":false},"axis":null},"y":{"datum":96.41,"type":"quantitative","scale":{"domain":[-36.92,111.65],"nice":false,"zero":false},"axis":null},"text":{"value":"CISPR"}}},
   {"mark":{"type":"text","align":"right","fontSize":8,"fontWeight":"bold","color":"#222222"},"encoding":{"x":{"datum":957,"type":"quantitative","scale":{"type":"log","domain":[111.94,91620],"nice":false},"axis":null},"y":{"datum":96.41,"type":"quantitative","scale":{"domain":[-36.92,111.65],"nice":false,"zero":false},"axis":null},"text":{"value":"Smooth"}}},
   {"mark":{"type":"text","align":"left","fontSize":8,"fontWeight":"bold","color":"#222222"},"encoding":{"x":{"datum":556.5,"type":"quantitative","scale":{"type":"log","domain":[111.94,91620],"nice":false},"axis":null},"y":{"datum":93.56,"type":"quantitative","scale":{"domain":[-36.92,111.65],"nice":false,"zero":false},"axis":null},"text":{"value":"Scan"}}},
   {"mark":{"type":"text","align":"left","fontSize":8.5,"fontWeight":"bold","color":"#222222"},"encoding":{"x":{"datum":1383,"type":"quantitative","scale":{"type":"log","domain":[111.94,91620],"nice":false},"axis":null},"y":{"datum":94.03,"type":"quantitative","scale":{"domain":[-36.92,111.65],"nice":false,"zero":false},"axis":null},"text":{"value":"Atten: 10 dB"}}},
   {"mark":{"type":"text","align":"right","fontSize":14,"fontWeight":"bold","color":"#33ff33"},"encoding":{"x":{"datum":28740,"type":"quantitative","scale":{"type":"log","domain":[111.94,91620],"nice":false},"axis":null},"y":{"datum":88.79,"type":"quantitative","scale":{"domain":[-36.92,111.65],"nice":false,"zero":false},"axis":null},"text":{"value":"Mkr1  150 kHz"}}},
   {"mark":{"type":"text","align":"right","fontSize":14,"fontWeight":"bold","color":"#33ff33"},"encoding":{"x":{"datum":28740,"type":"quantitative","scale":{"type":"log","domain":[111.94,91620],"nice":false},"axis":null},"y":{"datum":84.03,"type":"quantitative","scale":{"domain":[-36.92,111.65],"nice":false,"zero":false},"axis":null},"text":{"value":"48.427 dBµV"}}},
   {"mark":{"type":"text","align":"left","fontSize":9.5,"color":"#a8a8a8"},"encoding":{"x":{"datum":118.2,"type":"quantitative","scale":{"type":"log","domain":[111.94,91620],"nice":false},"axis":null},"y":{"datum":82.76,"type":"quantitative","scale":{"domain":[-36.92,111.65],"nice":false,"zero":false},"axis":null},"text":{"value":"10 dB/div"}}},
   {"mark":{"type":"text","align":"left","fontSize":11.5,"fontWeight":"bold","color":"white"},"encoding":{"x":{"datum":255.1,"type":"quantitative","scale":{"type":"log","domain":[111.94,91620],"nice":false},"axis":null},"y":{"datum":82.76,"type":"quantitative","scale":{"domain":[-36.92,111.65],"nice":false,"zero":false},"axis":null},"text":{"value":"Ref 80.00 dBµV"}}},
   {"mark":{"type":"text","align":"left","fontSize":9.5,"color":"#a8a8a8"},"encoding":{"x":{"datum":118.2,"type":"quantitative","scale":{"type":"log","domain":[111.94,91620],"nice":false},"axis":null},"y":{"datum":80.1,"type":"quantitative","scale":{"domain":[-36.92,111.65],"nice":false,"zero":false},"axis":null},"text":{"value":"Log"}}},
   {"mark":{"type":"text","align":"left","fontSize":9.5,"color":"#2edc2e"},"encoding":{"x":{"datum":158.3,"type":"quantitative","scale":{"type":"log","domain":[111.94,91620],"nice":false},"axis":null},"y":{"datum":77.37,"type":"quantitative","scale":{"domain":[-36.92,111.65],"nice":false,"zero":false},"axis":null},"text":{"value":"Trace 1 Pass"}}},
   {"mark":{"type":"text","align":"left","fontSize":11.5,"fontWeight":"bold","color":"white"},"encoding":{"x":{"datum":116.9,"type":"quantitative","scale":{"type":"log","domain":[111.94,91620],"nice":false},"axis":null},"y":{"datum":-22.95,"type":"quantitative","scale":{"domain":[-36.92,111.65],"nice":false,"zero":false},"axis":null},"text":{"value":"Start 150 kHz"}}},
   {"mark":{"type":"text","align":"left","fontSize":11.5,"fontWeight":"bold","color":"white"},"encoding":{"x":{"datum":116.9,"type":"quantitative","scale":{"type":"log","domain":[111.94,91620],"nice":false},"axis":null},"y":{"datum":-27.08,"type":"quantitative","scale":{"domain":[-36.92,111.65],"nice":false,"zero":false},"axis":null},"text":{"value":"Res BW 9 kHz"}}},
   {"mark":{"type":"text","fontSize":11.5,"fontWeight":"bold","color":"white"},"encoding":{"x":{"datum":1310,"type":"quantitative","scale":{"type":"log","domain":[111.94,91620],"nice":false},"axis":null},"y":{"datum":-27.08,"type":"quantitative","scale":{"domain":[-36.92,111.65],"nice":false,"zero":false},"axis":null},"text":{"value":"VBW 90 kHz"}}},
   {"mark":{"type":"text","align":"right","fontSize":11.5,"fontWeight":"bold","color":"white"},"encoding":{"x":{"datum":30630,"type":"quantitative","scale":{"type":"log","domain":[111.94,91620],"nice":false},"axis":null},"y":{"datum":-22.95,"type":"quantitative","scale":{"domain":[-36.92,111.65],"nice":false,"zero":false},"axis":null},"text":{"value":"Stop 30 MHz"}}},
   {"mark":{"type":"text","align":"right","fontSize":11.5,"fontWeight":"bold","color":"white"},"encoding":{"x":{"datum":30630,"type":"quantitative","scale":{"type":"log","domain":[111.94,91620],"nice":false},"axis":null},"y":{"datum":-27.08,"type":"quantitative","scale":{"domain":[-36.92,111.65],"nice":false,"zero":false},"axis":null},"text":{"value":"Dwell Time 108.1 µs(4.5 kHz)"}}}
  ]},
 {"width":17,"height":468,"view":{"stroke":"black","strokeWidth":2},"data":{"values":[{}]},"mark":{"type":"text","text":""}}
]},
{"spacing":0,"bounds":"flush","hconcat":[
 {"width":661,"height":37,"view":{"stroke":"black","strokeWidth":2},"data":{"values":[{"t":"Line 1"}]},"mark":{"type":"text","font":"Liberation Serif","fontSize":28,"color":"black"},"encoding":{"text":{"field":"t"}}},
 {"width":661,"height":37,"view":{"stroke":"black","strokeWidth":2},"data":{"values":[{"t":"Line 2"}]},"mark":{"type":"text","font":"Liberation Serif","fontSize":28,"color":"black"},"encoding":{"text":{"field":"t"}}}
]}
]
}
